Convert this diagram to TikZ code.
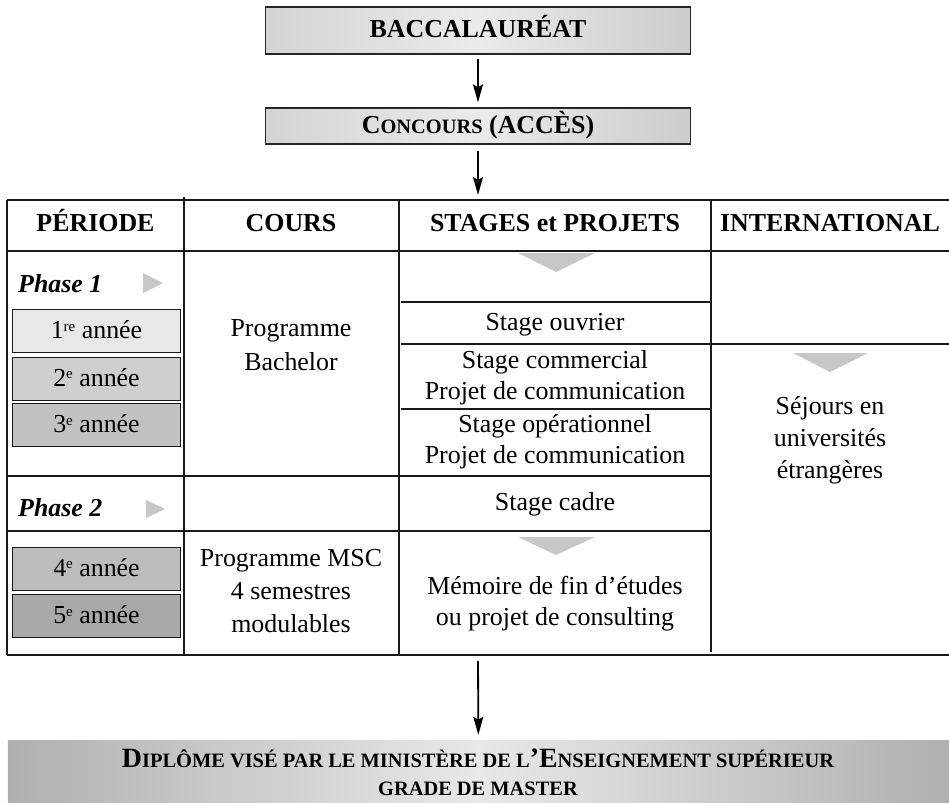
\documentclass[tikz,border=0pt]{standalone}
\usepackage{fontspec}
\setmainfont{Liberation Serif}
\usetikzlibrary{arrows.meta}

\newcommand{\petitcap}[1]{{\fontsize{20.5}{24}\selectfont #1}}
\newcommand{\expo}[1]{\raisebox{7.5bp}{\fontsize{15}{15}\selectfont #1}}

\tikzset{
  arr/.style={-{Stealth[length=18bp,width=10bp,inset=3bp]}, line width=1.8bp, black},
  rule/.style={line width=1.2bp, black!90},
  headbox/.style={draw=black!85, line width=1.3bp, left color=black!17, right color=black!20, middle color=black!8,
    minimum width=425bp, inner sep=0pt, text height=17bp, text depth=2bp, font=\bfseries\fontsize{26}{30}\selectfont},
  yearbox/.style={draw=black!90, line width=1bp, minimum width=167bp, minimum height=43bp, inner sep=0pt,
    text height=17bp, text depth=2bp, font=\fontsize{26}{30}\selectfont},
  colhead/.style={anchor=base, inner sep=0pt, font=\bfseries\fontsize{26}{30}\selectfont},
  phase/.style={anchor=base west, inner sep=0pt, font=\bfseries\itshape\fontsize{26}{30}\selectfont},
  cell/.style={align=center, inner sep=0pt, font=\fontsize{26}{31}\selectfont},
  tri/.style={fill=black!22},
  diplbox/.style={minimum width=941bp, minimum height=63bp, inner sep=0pt, left color=black!31, right color=black!31, middle color=black!9}
}

\begin{document}
\begin{tikzpicture}[x=1bp, y=-1bp]
    \useasboundingbox (0,0) rectangle (949,803);

    \node [headbox, minimum height=47bp] (bac) at (478,30.5) {BACCALAURÉAT};
    \node [headbox, minimum height=36bp] (concours) at (478,126) {C\petitcap{ONCOURS} (ACCÈS)};
    \coordinate (tabtop) at (478,200);
    \coordinate (tabbot) at (478,655);
    \draw [arr, shorten <=4bp, shorten >=5bp] (bac) -- (concours);
    \draw [arr, shorten <=6bp, shorten >=5bp] (concours) -- (tabtop);

    \draw [rule] (7,200) -- (949,200);
    \draw [rule] (7,251) -- (949,251);
    \draw [rule] (7,655) -- (949,655);
    \draw [rule] (7,200) -- (7,655);
    \draw [rule] (184,197) -- (184,655);
    \draw [rule] (399,200) -- (399,655);
    \draw [rule] (711,200) -- (711,652);
    \draw [rule] (7,476) -- (711,476);
    \draw [rule] (7,531) -- (711,531);
    \draw [rule] (401,302) -- (711,302);
    \draw [rule] (401,344) -- (949,344);
    \draw [rule] (401,409) -- (711,409);

    \node [colhead] (hperiode) at (95.5,231) {PÉRIODE};
    \node [colhead] (hcours) at (291,231) {COURS};
    \node [colhead] (hstages) at (555,231) {STAGES et PROJETS};
    \node [colhead] (hinter) at (830,231) {INTERNATIONAL};

    \node [phase] (phaseone) at (18,292) {Phase 1};
    \fill [tri] (143,273) -- (163,283) -- (143,293) -- cycle;
    \node [yearbox, fill=black!9] (an1) at (96.5,331) {1\expo{re} année};
    \node [yearbox, fill=black!19] (an2) at (96.5,378.5) {2\expo{e} année};
    \node [yearbox, fill=black!24] (an3) at (96.5,425) {3\expo{e} année};
    \node [phase] (phasetwo) at (18,516) {Phase 2};
    \fill [tri] (146,500) -- (165,509) -- (146,518) -- cycle;
    \node [yearbox, fill=black!26] (an4) at (96.5,568.5) {4\expo{e} année};
    \node [yearbox, fill=black!34] (an5) at (96.5,616) {5\expo{e} année};

    \node [cell, font=\fontsize{26}{34}\selectfont] (bachelor) at (291,345) {Programme\\Bachelor};
    \node [cell, font=\fontsize{26}{33}\selectfont] (msc) at (291,591) {Programme MSC\\4 semestres\\modulables};

    \fill [tri] (518,253) -- (595,253) -- (556,272) -- cycle;
    \node [cell] (ouvrier) at (555,325) {Stage ouvrier};
    \node [cell] (commercial) at (555,378) {Stage commercial\\Projet de communication};
    \node [cell] (operationnel) at (555,442) {Stage opérationnel\\Projet de communication};
    \node [cell] (cadre) at (555,504) {Stage cadre};
    \fill [tri] (518,537) -- (595,537) -- (556,555) -- cycle;
    \node [cell] (memoire) at (555,604) {Mémoire de fin d’études\\ou projet de consulting};

    \fill [tri] (793,353) -- (868,353) -- (830,372) -- cycle;
    \node [cell, font=\fontsize{26}{32}\selectfont] (sejours) at (830,440) {Séjours en\\universités\\étrangères};

    \node [diplbox] (diplome) at (478.5,771.5) {};
    \node [align=center, inner sep=0pt, font=\bfseries\fontsize{28}{28}\selectfont] (diplometxt) at (478,772)
        {D\petitcap{IPLÔME VISÉ PAR LE MINISTÈRE DE L}’E\petitcap{NSEIGNEMENT SUPÉRIEUR}\\\petitcap{GRADE DE MASTER}};
    \draw [arr, shorten <=6bp, shorten >=5bp] (tabbot) -- (diplome);
\end{tikzpicture}
\end{document}
